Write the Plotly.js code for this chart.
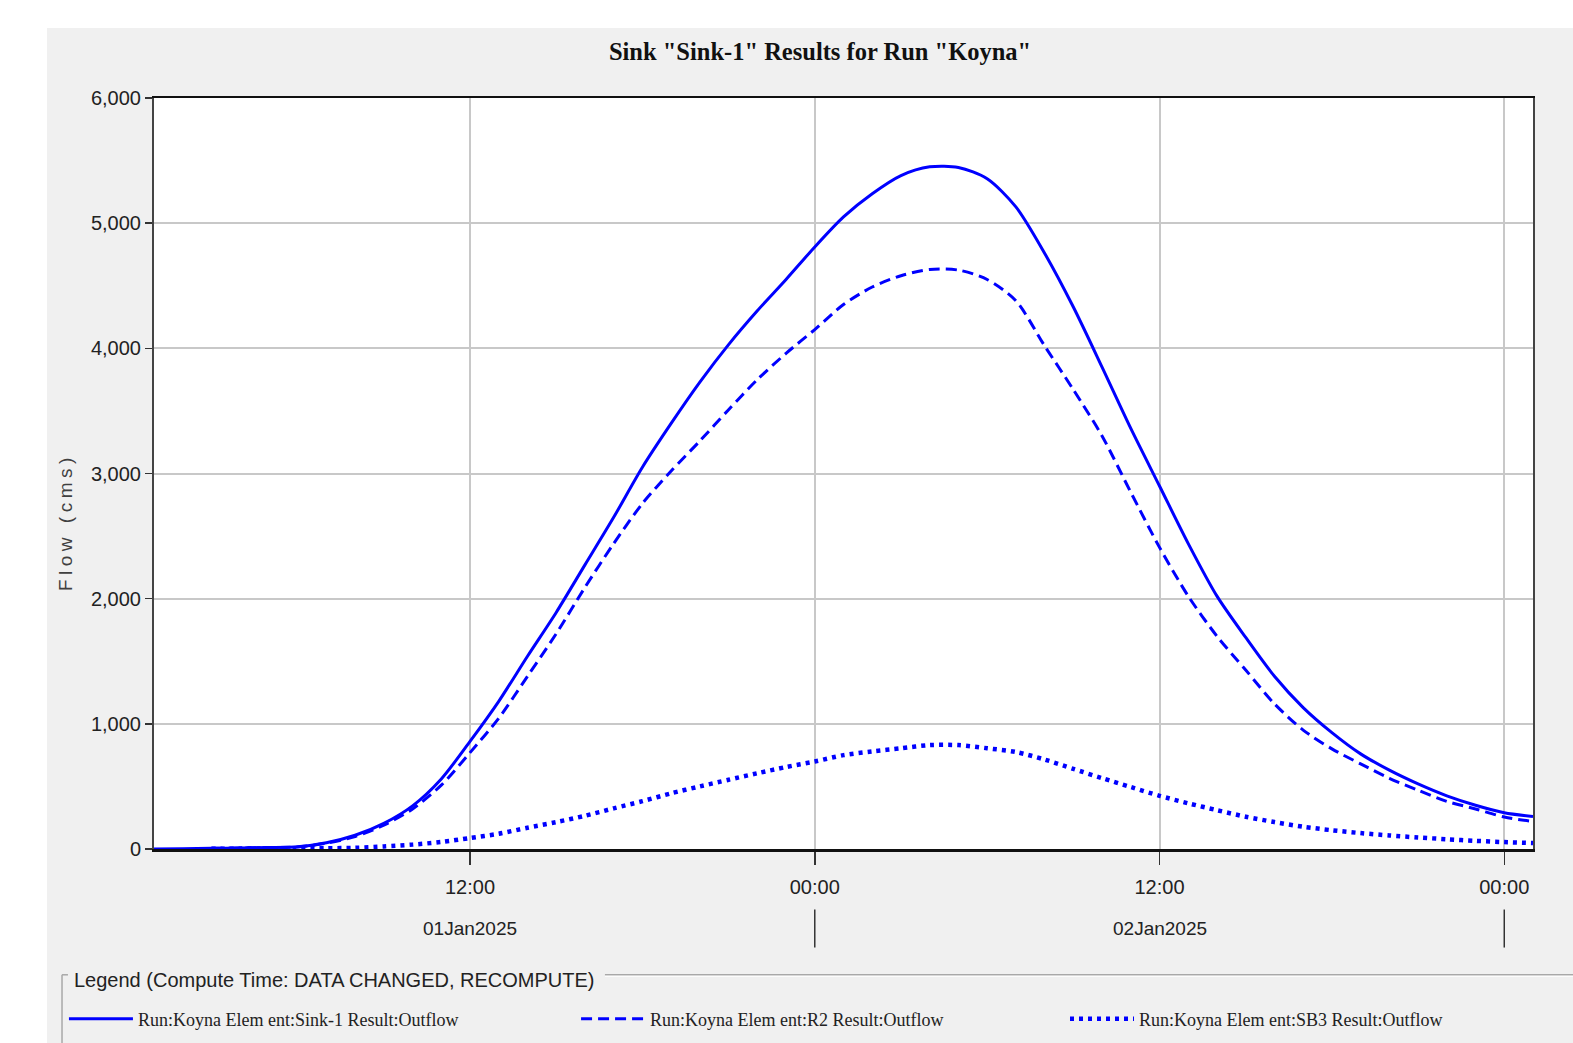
<!DOCTYPE html>
<html>
<head>
<meta charset="utf-8">
<script src="https://cdn.plot.ly/plotly-3.0.1.min.js"></script>
<style>
  html, body { margin: 0; padding: 0; background: #ffffff; width: 1573px; height: 1043px; overflow: hidden; }
  #chart { position: absolute; left: 47px; top: 28px; width: 1526px; height: 1015px; }
  .ytitle-ann text { letter-spacing: 4.5px; }
</style>
</head>
<body>
<div id="chart"></div>
<script>
const times = [
  "2025-01-01 01:00","2025-01-01 02:00","2025-01-01 03:00","2025-01-01 04:00","2025-01-01 05:00","2025-01-01 06:00",
  "2025-01-01 07:00","2025-01-01 08:00","2025-01-01 09:00","2025-01-01 10:00","2025-01-01 11:00","2025-01-01 12:00",
  "2025-01-01 13:00","2025-01-01 14:00","2025-01-01 15:00","2025-01-01 16:00","2025-01-01 17:00","2025-01-01 18:00",
  "2025-01-01 19:00","2025-01-01 20:00","2025-01-01 21:00","2025-01-01 22:00","2025-01-01 23:00","2025-01-02 00:00",
  "2025-01-02 01:00","2025-01-02 02:00","2025-01-02 03:00","2025-01-02 04:00","2025-01-02 05:00","2025-01-02 06:00",
  "2025-01-02 07:00","2025-01-02 08:00","2025-01-02 09:00","2025-01-02 10:00","2025-01-02 11:00","2025-01-02 12:00",
  "2025-01-02 13:00","2025-01-02 14:00","2025-01-02 15:00","2025-01-02 16:00","2025-01-02 17:00","2025-01-02 18:00",
  "2025-01-02 19:00","2025-01-02 20:00","2025-01-02 21:00","2025-01-02 22:00","2025-01-02 23:00","2025-01-03 00:00",
  "2025-01-03 01:00"
];

const sink1Outflow = [0,2,5,8,11,18,50,110,205,345,560,860,1180,1540,1890,2270,2650,3050,3400,3730,4030,4300,4550,4810,
  5050,5235,5380,5450,5445,5355,5130,4760,4330,3850,3360,2900,2440,2020,1690,1380,1130,930,760,630,520,425,350,290,260];

const r2Outflow = [null,null,5,8,11,16,46,100,190,320,510,770,1045,1380,1720,2090,2440,2760,3020,3260,3510,3750,3960,4150,
  4350,4490,4580,4630,4625,4550,4380,4020,3670,3300,2850,2410,2020,1700,1430,1160,950,800,680,565,470,380,320,255,220];

const sb3Outflow = [null,null,2,3,4,5,6,9,20,35,56,88,122,170,215,265,325,382,445,500,553,605,655,699,
  750,780,805,830,830,805,775,715,640,566,495,425,365,310,258,215,178,150,127,108,92,78,65,55,48];

const seriesNames = [
  "Run:Koyna Elem ent:Sink-1 Result:Outflow",
  "Run:Koyna Elem ent:R2 Result:Outflow",
  "Run:Koyna Elem ent:SB3 Result:Outflow"
];

const xTickVals = ["2025-01-01 12:00","2025-01-02 00:00","2025-01-02 12:00","2025-01-03 00:00"];
const xTickText = ["12:00","00:00","12:00","00:00"];
const dayLabels = ["01Jan2025","02Jan2025"];
const dayLabelPos = ["2025-01-01 12:00","2025-01-02 12:00"];
const daySeparators = ["2025-01-02 00:00","2025-01-03 00:00"];
const yTickVals = [0,1000,2000,3000,4000,5000,6000];

const sans = "Liberation Sans, Arial, sans-serif";
const serif = "Liberation Serif, Times New Roman, serif";
const blue = "#0000ff";

const traces = [
  { x: times, y: sink1Outflow, name: seriesNames[0], type: "scatter", mode: "lines", legend: "legend",
    line: { color: blue, width: 3, shape: "spline", smoothing: 0.8 } },
  { x: times, y: r2Outflow, name: seriesNames[1], type: "scatter", mode: "lines", legend: "legend2",
    line: { color: blue, width: 3, dash: "11px,6px", shape: "spline", smoothing: 0.8 } },
  { x: times, y: sb3Outflow, name: seriesNames[2], type: "scatter", mode: "lines", legend: "legend3",
    line: { color: blue, width: 4.5, dash: "4px,5px", shape: "spline", smoothing: 0.8 } }
];

const annotations = dayLabels.map((t, i) => ({
  x: dayLabelPos[i], xref: "x", y: -0.1065, yref: "paper", text: t, showarrow: false,
  xanchor: "center", yanchor: "middle", font: { family: sans, size: 19, color: "#222" }
}));
annotations.push({
  x: -0.0595, xref: "paper", y: -0.1738, yref: "paper", text: "Legend (Compute Time: DATA CHANGED, RECOMPUTE)",
  showarrow: false, xanchor: "left", yanchor: "middle", font: { family: sans, size: 20, color: "#222" }
});
annotations.push({
  x: -0.0645, xref: "paper", y: 0.4348, yref: "paper", text: "Flow (cms)", textangle: -90,
  showarrow: false, xanchor: "center", yanchor: "middle", font: { family: sans, size: 19, color: "#404040" }
});

const shapes = daySeparators.map(d => ({
  type: "line", xref: "x", yref: "paper", x0: d, x1: d, y0: -0.0806, y1: -0.1312,
  line: { color: "#333", width: 1.5 }
}));
// legend group box
shapes.push({ type: "line", xref: "paper", yref: "paper", x0: 0.327, x1: 1.04, y0: -0.1675, y1: -0.1675, line: { color: "#a8a8a8", width: 1.5 } });
shapes.push({ type: "line", xref: "paper", yref: "paper", x0: 0.327, x1: 1.04, y0: -0.1695, y1: -0.1695, line: { color: "#ffffff", width: 1 } });
shapes.push({ type: "line", xref: "paper", yref: "paper", x0: -0.0667, x1: -0.0667, y0: -0.1675, y1: -0.27, line: { color: "#a8a8a8", width: 1.5 } });
shapes.push({ type: "line", xref: "paper", yref: "paper", x0: -0.0667, x1: -0.0624, y0: -0.1675, y1: -0.1675, line: { color: "#a8a8a8", width: 1.5 } });

function legendAt(x) {
  return {
    orientation: "h", xref: "container", yref: "container", x: x, xanchor: "left", y: 0.0236, yanchor: "middle",
    bgcolor: "rgba(0,0,0,0)", itemwidth: 64,
    font: { family: serif, size: 18, color: "#222" }
  };
}

const layout = {
  width: 1526, height: 1015,
  paper_bgcolor: "#f0f0f0", plot_bgcolor: "#ffffff",
  margin: { l: 107, r: 40, t: 70, b: 194 },
  title: { text: 'Sink "Sink-1" Results for Run "Koyna"', xref: "container", x: 0.5066, yref: "container", y: 0.977,
    xanchor: "center", yanchor: "middle", font: { family: serif, size: 24.5, color: "#111", weight: "bold" } },
  xaxis: {
    type: "date", range: ["2025-01-01 01:00", "2025-01-03 01:00"],
    tickmode: "array", tickvals: xTickVals, ticktext: xTickText,
    ticks: "outside", ticklen: 13, tickwidth: 1.5, tickcolor: "#333",
    showgrid: true, gridcolor: "#c8c8c8", gridwidth: 2,
    showline: true, linecolor: "#111", linewidth: 2.5, mirror: true,
    zeroline: false, ticklabelstandoff: 5,
    tickfont: { family: sans, size: 20, color: "#222" }
  },
  yaxis: {
    range: [0, 6000], tickmode: "array", tickvals: yTickVals, tickformat: ",",
    ticks: "outside", ticklen: 7, tickwidth: 1.5, tickcolor: "#333",
    showgrid: true, gridcolor: "#c8c8c8", gridwidth: 2,
    showline: true, linecolor: "#444", linewidth: 2, mirror: true, zeroline: false,
    tickfont: { family: sans, size: 20, color: "#222" }
  },
  showlegend: true,
  legend: legendAt(0.0111),
  legend2: legendAt(0.3467),
  legend3: legendAt(0.6671),
  annotations: annotations,
  shapes: shapes
};

Plotly.newPlot("chart", traces, layout, { displayModeBar: false, staticPlot: true }).then(() => {
  document.querySelectorAll(".annotation").forEach(a => {
    if (a.textContent === "Flow (cms)") a.classList.add("ytitle-ann");
  });
});
</script>
</body>
</html>
